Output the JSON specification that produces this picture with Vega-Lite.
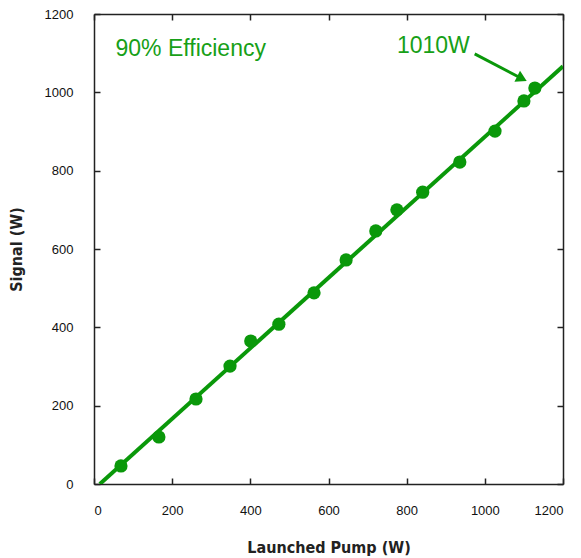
{
  "$schema": "https://vega.github.io/schema/vega-lite/v6.json",
  "width": 469,
  "height": 470,
  "autosize": {"type": "none"},
  "padding": {"left": 94, "top": 14, "right": 18, "bottom": 74},
  "background": "white",
  "config": {
    "view": {"stroke": null},
    "axis": {
      "grid": false,
      "domainColor": "#222",
      "domainWidth": 1.5,
      "tickColor": "#222",
      "tickWidth": 1.5,
      "labelFont": "Liberation Sans",
      "labelFontSize": 13,
      "labelColor": "#111",
      "titleFont": "DejaVu Sans Condensed, Liberation Sans Narrow, sans-serif",
      "titleFontSize": 16,
      "titleFontWeight": "bold",
      "titleColor": "#222"
    }
  },
  "datasets": {
    "pts": [
      {"pump": 69, "signal": 46},
      {"pump": 166, "signal": 120},
      {"pump": 261, "signal": 217},
      {"pump": 348, "signal": 301},
      {"pump": 401, "signal": 365},
      {"pump": 473, "signal": 408},
      {"pump": 563, "signal": 488},
      {"pump": 645, "signal": 572},
      {"pump": 721, "signal": 646},
      {"pump": 775, "signal": 700},
      {"pump": 841, "signal": 745},
      {"pump": 936, "signal": 822},
      {"pump": 1026, "signal": 901},
      {"pump": 1100, "signal": 978},
      {"pump": 1128, "signal": 1011}
    ],
    "fit": [
      {"pump": 15, "signal": 0},
      {"pump": 1200, "signal": 1066.5}
    ],
    "arrow": [
      {"pump": 974, "signal": 1098, "o": 0},
      {"pump": 1093, "signal": 1036, "o": 1}
    ],
    "head": [
      {"pump": 1095, "signal": 1035}
    ],
    "labels": [
      {"pump": 55, "signal": 1110, "text": "90% Efficiency"},
      {"pump": 775, "signal": 1118, "text": "1010W"}
    ]
  },
  "layer": [
    {
      "data": {"name": "fit"},
      "mark": {"type": "line", "color": "#0a980a", "strokeWidth": 4, "clip": true},
      "encoding": {
        "x": {"field": "pump", "type": "quantitative", "scale": {"domain": [0, 1200], "nice": false},
          "axis": {"title": "Launched Pump (W)", "format": "d", "values": [0,200,400,600,800,1000,1200], "tickSize": -6, "labelPadding": 26, "titlePadding": 22}},
        "y": {"field": "signal", "type": "quantitative", "scale": {"domain": [0, 1200], "nice": false},
          "axis": {"title": "Signal (W)", "format": "d", "values": [0,200,400,600,800,1000,1200], "tickSize": -6, "labelPadding": 27, "titlePadding": 20}}
      }
    },
    {
      "data": {"name": "pts"},
      "mark": {"type": "point", "filled": true, "color": "#0a980a", "size": 175, "opacity": 1},
      "encoding": {
        "x": {"field": "pump", "type": "quantitative", "axis": {"orient": "top", "labels": false, "title": null, "tickSize": -6, "values": [0,200,400,600,800,1000,1200]}},
        "y": {"field": "signal", "type": "quantitative", "axis": {"orient": "right", "labels": false, "title": null, "tickSize": -6, "values": [0,200,400,600,800,1000,1200]}}
      }
    },
    {
      "data": {"name": "arrow"},
      "mark": {"type": "line", "color": "#0a980a", "strokeWidth": 3},
      "encoding": {
        "x": {"field": "pump", "type": "quantitative", "axis": null},
        "y": {"field": "signal", "type": "quantitative", "axis": null},
        "order": {"field": "o"}
      }
    },
    {
      "data": {"name": "head"},
      "mark": {"type": "point", "shape": "triangle-right", "filled": true, "color": "#0a980a", "size": 150, "angle": 27, "opacity": 1},
      "encoding": {
        "x": {"field": "pump", "type": "quantitative", "axis": null},
        "y": {"field": "signal", "type": "quantitative", "axis": null}
      }
    },
    {
      "data": {"name": "labels"},
      "mark": {"type": "text", "color": "#17a017", "font": "Liberation Sans", "fontSize": 23, "align": "left", "baseline": "middle"},
      "encoding": {
        "x": {"field": "pump", "type": "quantitative", "axis": null},
        "y": {"field": "signal", "type": "quantitative", "axis": null},
        "text": {"field": "text"}
      }
    }
  ],
  "resolve": {"axis": {"x": "independent", "y": "independent"}}
}
